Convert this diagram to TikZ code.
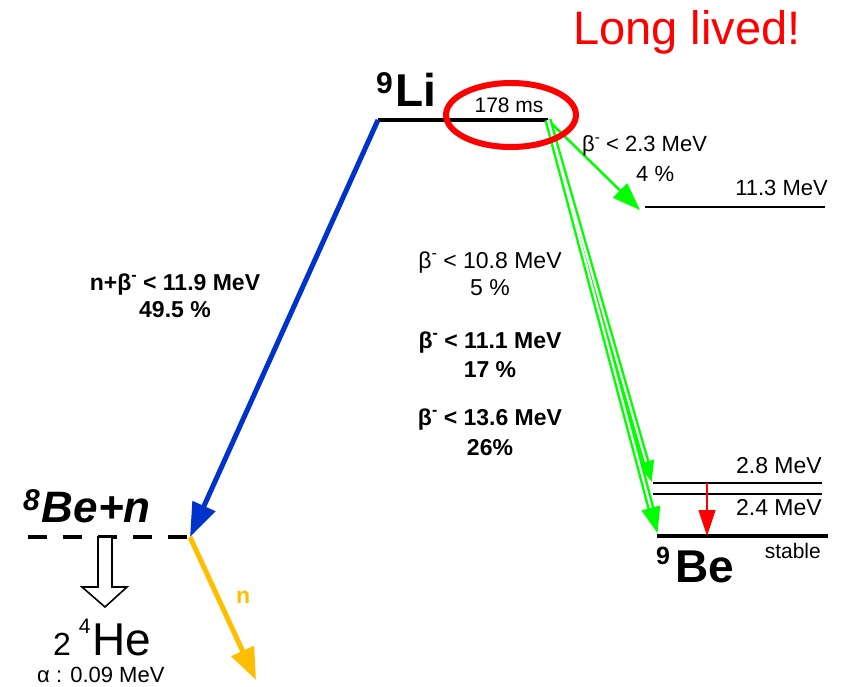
\documentclass[tikz,border=0pt]{standalone}
\usepackage{fontspec}
\setmainfont{Liberation Sans}
\usetikzlibrary{arrows.meta}
\definecolor{decayblue}{RGB}{0,51,204}
\definecolor{decaygreen}{RGB}{0,255,0}
\definecolor{norange}{RGB}{255,190,0}
\definecolor{lred}{RGB}{255,0,0}
\newcommand\fs[1]{\fontsize{#1}{#1}\selectfont}
\newcommand\bmin{β\raisebox{.42em}{\scalebox{.7}{-}}}

\begin{document}
\begin{tikzpicture}[x=1pt,y=-1pt,>=Stealth,
  lbl/.style={inner sep=0,anchor=base},
  lvl/.style={line width=1.3pt},
  gnd/.style={line width=4.5pt}]
\useasboundingbox (0,0) rectangle (845,687);
\coordinate (LiL) at (378,120);
\coordinate (LiR) at (548,120);
\coordinate (BenL) at (28,537);
\coordinate (BenR) at (190,537);
\coordinate (Ea) at (645,207);  \coordinate (Eb) at (825,207);
\coordinate (Fa) at (653,483);  \coordinate (Fb) at (822,483);
\coordinate (Ga) at (653,494);  \coordinate (Gb) at (822,494);
\coordinate (Ha) at (657,536);  \coordinate (Hb) at (828,536);
\coordinate (nEnd) at (256,680);
\coordinate (redTop) at (707,483);
\coordinate (redBot) at (707,536);
\coordinate (g1) at (640,210);
\coordinate (g2) at (652,483);
\coordinate (g3) at (658,535);

\draw[gnd] (LiL) -- (LiR);
\draw[gnd,dash pattern=on 19pt off 16pt] (BenL) -- (BenR);
\draw[lvl] (Ea) -- (Eb);
\draw[lvl] (Fa) -- (Fb);
\draw[lvl] (Ga) -- (Gb);
\draw[gnd] (Ha) -- (Hb);

\draw[decayblue,line width=5pt,-{Triangle[length=34pt,width=24pt]}] (LiL) -- (BenR);
\draw[norange,line width=5pt,-{Triangle[length=32pt,width=24pt]}] (BenR) -- (nEnd);
\draw[lred,line width=1.2pt,-{Triangle[length=26pt,width=17pt]}] (redTop) -- (redBot);
\draw[decaygreen,line width=2.5pt,-{Triangle[length=28pt,width=20pt]}] (LiR) -- (g1);
\draw[decaygreen,line width=7pt,-{Triangle[length=22pt,width=15pt]}] (LiR) -- (g2);
\draw[decaygreen,line width=7pt,-{Triangle[length=28pt,width=17pt]}] (LiR) -- (g3);
\draw[white,line width=2.2pt,shorten >=22pt] (LiR) -- (g2);
\draw[white,line width=2.2pt,shorten >=28pt] (LiR) -- (g3);

\draw[line width=1.6pt,fill=white] (98,537) -- (112,537) -- (112,587) -- (127,587)
  -- (105,607) -- (82,587) -- (98,587) -- cycle;

\draw[lred,line width=6pt] (511,115) ellipse[x radius=65,y radius=32];

\node[lbl,anchor=base west,text=lred] (long) at (573,45) {\fs{47}Long lived!};
\node[lbl,anchor=base west,font=\bfseries] (li) at (376,107)
  {\fs{30}\raisebox{13pt}{9}\kern3pt\fs{46}Li};
\node[lbl] (life) at (509,113) {\fs{21}178 ms};
\node[lbl,anchor=base west] (bA) at (582,152) {\fs{22}\bmin\ < 2.3 MeV};
\node[lbl,anchor=base west] (bAp) at (636,182) {\fs{22}4 \%};
\node[lbl,anchor=base east] (eA) at (828,195) {\fs{22}11.3 MeV};
\node[lbl,font=\bfseries] (nb) at (175,290) {\fs{23}n+\bmin\ < 11.9 MeV};
\node[lbl,font=\bfseries] (nbp) at (175,317) {\fs{23}49.5 \%};
\node[lbl] (bB) at (490,268) {\fs{23}\bmin\ < 10.8 MeV};
\node[lbl] (bBp) at (490,295) {\fs{23}5 \%};
\node[lbl,font=\bfseries] (bC) at (490,348) {\fs{23}\bmin\ < 11.1 MeV};
\node[lbl,font=\bfseries] (bCp) at (490,377) {\fs{23}17 \%};
\node[lbl,font=\bfseries] (bD) at (490,425) {\fs{23}\bmin\ < 13.6 MeV};
\node[lbl,font=\bfseries] (bDp) at (490,455) {\fs{23}26\%};
\node[lbl,anchor=base east] (eF) at (822,473) {\fs{23}2.8 MeV};
\node[lbl,anchor=base east] (eG) at (822,515) {\fs{23}2.4 MeV};
\node[lbl,anchor=base east] (st) at (821,558) {\fs{21}stable};
\node[lbl,anchor=base west,font=\bfseries] (be) at (656,582)
  {\fs{25}\raisebox{18pt}{9}\kern5pt\fs{46}Be};
\node[lbl,anchor=base west,font=\bfseries\itshape] (ben) at (23,522)
  {\fs{30}\raisebox{12pt}{8}\kern2pt\fs{44}Be+n};
\node[lbl,anchor=base west] (he) at (53,655)
  {\fs{32}2\kern8pt\fs{21}\raisebox{22pt}{4}\kern2pt\fs{46}He};
\node[lbl,anchor=base west] (al) at (37,682) {\fs{22}α : 0.09 MeV};
\node[lbl,anchor=base west,text=norange,font=\bfseries] (nn) at (236,603) {\fs{23}n};
\end{tikzpicture}
\end{document}
